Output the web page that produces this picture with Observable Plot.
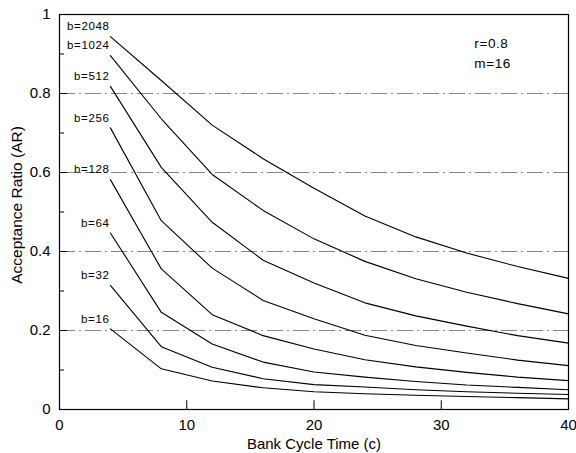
<!DOCTYPE html>
<html>
<head>
<meta charset="utf-8">
<script src="https://cdn.jsdelivr.net/npm/d3@7"></script>
<script src="https://cdn.jsdelivr.net/npm/@observablehq/plot@0.6"></script>
<style>
  html, body { margin: 0; padding: 0; background: #fff; }
  svg text.curve-label, svg .curve-label text { letter-spacing: 0.6px; }
</style>
</head>
<body>
<div id="chart"></div>
<script>
// Bank cycle time values (x)
const cycleTimes = [4, 8, 12, 16, 20, 24, 28, 32, 36, 40];
// Buffer sizes (series)
const bufferSizes = [2048, 1024, 512, 256, 128, 64, 32, 16];
// Acceptance ratio for each buffer size
const ar2048 = [0.944, 0.833, 0.720, 0.635, 0.560, 0.490, 0.437, 0.396, 0.362, 0.332];
const ar1024 = [0.896, 0.736, 0.595, 0.504, 0.432, 0.375, 0.331, 0.297, 0.268, 0.242];
const ar512  = [0.818, 0.613, 0.474, 0.378, 0.320, 0.270, 0.237, 0.211, 0.187, 0.168];
const ar256  = [0.713, 0.478, 0.358, 0.276, 0.230, 0.188, 0.162, 0.143, 0.125, 0.111];
const ar128  = [0.582, 0.356, 0.240, 0.187, 0.153, 0.126, 0.108, 0.094, 0.082, 0.073];
const ar64   = [0.447, 0.246, 0.166, 0.120, 0.095, 0.082, 0.071, 0.062, 0.056, 0.050];
const ar32   = [0.314, 0.159, 0.107, 0.078, 0.063, 0.057, 0.050, 0.045, 0.041, 0.038];
const ar16   = [0.204, 0.103, 0.072, 0.055, 0.045, 0.040, 0.036, 0.033, 0.030, 0.027];
const seriesValues = [ar2048, ar1024, ar512, ar256, ar128, ar64, ar32, ar16];

// Axis ticks
const xTicks = [0, 10, 20, 30, 40];
const xInnerTicks = [10, 20, 30];
const yTicks = [0, 0.2, 0.4, 0.6, 0.8, 1];
const yGrid = [0.2, 0.4, 0.6, 0.8];
const yMinorTicks = [0.1, 0.3, 0.5, 0.7, 0.9];

// Annotation
const annotText = ["r=0.8", "m=16"];
const annotX = 32.6;
const annotY = [0.927, 0.876];

const xLabel = "Bank Cycle Time (c)";
const yLabel = "Acceptance Ratio (AR)";

const rows = [];
bufferSizes.forEach((b, i) => {
  cycleTimes.forEach((c, j) => rows.push({b, c, ar: seriesValues[i][j]}));
});
const starts = bufferSizes.map((b, i) => ({b, c: cycleTimes[0], ar: seriesValues[i][0]}));
const annots = annotText.map((t, i) => ({t, x: annotX, y: annotY[i]}));

const font = "'Liberation Sans', Arial, Helvetica, sans-serif";

const chart = Plot.plot({
  width: 576,
  height: 453,
  marginLeft: 59,
  marginRight: 8,
  marginTop: 14,
  marginBottom: 44,
  style: {fontFamily: font, fontSize: "15px", background: "#fff", color: "#000"},
  x: {domain: [0, 40], ticks: xTicks, tickSize: 0, tickPadding: 10, label: null},
  y: {domain: [0, 1], ticks: yTicks, tickSize: 0, tickPadding: 9, tickFormat: d3.format("~g"), label: null},
  marks: [
    Plot.ruleY(yGrid, {stroke: "#777", strokeWidth: 0.9, strokeDasharray: "16,4,2,4"}),
    Plot.ruleY(yGrid, {x1: 0, x2: 0.65, stroke: "#000", strokeWidth: 1}),
    Plot.ruleY(yMinorTicks, {x1: 0, x2: 0.4, stroke: "#000", strokeWidth: 1}),
    Plot.ruleX(xInnerTicks, {y1: 0, y2: 0.022, stroke: "#000", strokeWidth: 1}),
    Plot.frame({stroke: "#000", strokeWidth: 1.2}),
    Plot.line(rows, {x: "c", y: "ar", z: "b", stroke: "#000", strokeWidth: 1.1}),
    Plot.text(starts, {x: "c", y: "ar", text: d => `b=${d.b}`, textAnchor: "end", dx: -1, dy: -10, fontSize: 11.5, className: "curve-label"}),
    Plot.text(annots, {x: "x", y: "y", text: "t", textAnchor: "start", fontSize: 13.5, className: "curve-label"}),
    Plot.text([xLabel], {text: d => d, frameAnchor: "bottom", textAnchor: "middle", lineAnchor: "middle", dy: 35, fontSize: 15}),
    Plot.text([yLabel], {text: d => d, frameAnchor: "left", textAnchor: "middle", lineAnchor: "middle", rotate: -90, dx: -42, dy: -7, fontSize: 15.5})
  ]
});
document.getElementById("chart").appendChild(chart);
</script>
</body>
</html>
